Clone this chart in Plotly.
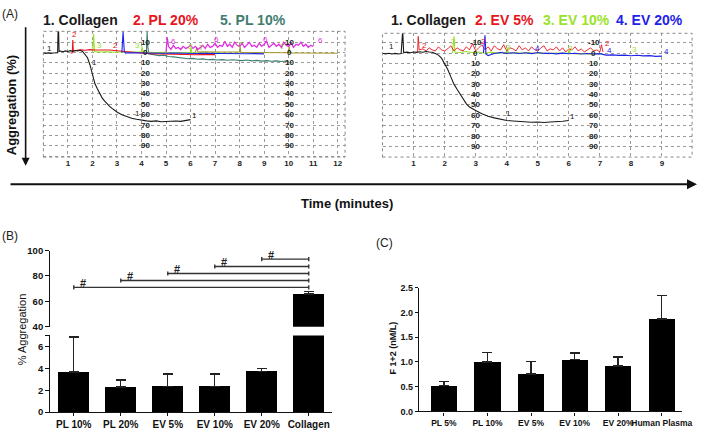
import plotly.graph_objects as go

W, H = 709, 435
def px(x): return x / W
def py(y): return 1 - y / H

# ---------------- Panel A data (time in minutes, aggregation %) ----------------
colL_t = [0.0,0.1,0.2,0.3,0.4,0.5,0.58,0.6,0.62,0.64,0.7,0.8,0.9,1.0,1.1,1.2,1.3,1.4,1.5,1.6,1.7,1.8,1.9,2.0,2.1,2.2,2.3,2.4,2.5,2.6,2.7,2.8,2.9,3.0,3.2,3.4,3.6,3.8,4.0,4.2,4.4,4.6,4.8,5.0,5.2,5.4,5.6,5.8,6.0]
colL_v = [0.5,0.8,0.3,0.9,0.4,0.6,0.2,-22,-22,-1,-1.5,-0.8,-1.6,-1.0,-1.8,-1.2,-2.0,-1.6,-2.2,-1.0,1.5,5,12,22,30,35,40,44,47,50,52,54,56,57.5,60,62,63.5,64.5,65.5,66,66.5,66,66.8,66.5,66.8,66.2,66.5,65.8,64.8]
redL_t = [1.1,1.18,1.2,1.22,1.3,1.5,1.7,1.9,2.1,2.3,2.5,2.7,2.9,3.1,3.3,3.5,3.8,4.1,4.4,4.7,5.0,5.3,5.6,5.9,6.2,6.5,6.8,7.0]
redL_v = [0.5,0.3,-12,-1.5,-2.0,-2.6,-2.2,-2.8,-2.4,-2.6,-2.2,-2.5,-2.0,-1.5,-0.8,-0.2,0.3,0.6,1.0,1.3,1.6,1.8,2.0,1.8,2.1,1.9,2.2,2.0]
grnL_t = [2.0,2.03,2.05,2.08,2.3,2.6,2.9,3.2,3.5,3.8,4.0,4.02,4.05,4.3,4.6,4.9,5.2,5.5,5.8,6.0,6.02,6.05,6.3,6.6,6.9,7.2,7.5,7.8,8.0]
grnL_v = [0,-18,-18,-1,-0.5,-0.8,-0.3,-0.6,-0.2,-0.5,-0.4,-6,-0.5,-0.2,0.1,-0.3,0.2,-0.1,0.3,0.1,-5,0.2,0.5,0.3,0.6,0.4,0.7,0.5,0.6]
bluL_t = [3.2,3.23,3.25,3.3,3.35,3.5,3.8,4.1,4.4,4.7,5.0,5.3,5.6,5.9,6.2,6.5,6.8,7.1,7.4,7.7,8.0,8.3,8.6,9.0]
bluL_v = [0,-13,-20,-1,0.5,0.2,0.4,0.1,0.5,0.3,0.6,0.4,0.8,0.5,0.9,0.6,0.8,1.0,0.7,1.1,0.9,1.2,1.0,1.3]
tealL_t = [4.2,4.23,4.26,4.3,4.5,4.7,4.9,5.1,5.3,5.5,5.7,5.9,6.1,6.3,6.5,6.7,6.9,7.1,7.3,7.5,7.7,7.9,8.1,8.3,8.5,8.7,8.9,9.1,9.3,9.5,9.7,9.9,10.0]
tealL_v = [0,-20,-5,1.5,2.0,3.0,2.5,3.8,4.2,4.8,5.2,6.0,5.6,6.5,6.1,7.0,6.6,7.2,6.8,7.4,6.9,7.3,7.8,7.2,8.0,7.6,8.3,7.8,8.4,8.0,8.6,8.2,8.5]
magL_t = [5.0,5.05,5.1,5.2,5.3,5.4,5.5,5.6,5.7,5.8,5.9,6.0,6.1,6.2,6.3,6.4,6.5,6.6,6.7,6.8,6.9,7.0,7.1,7.2,7.3,7.4,7.5,7.6,7.7,7.8,7.9,8.0,8.1,8.2,8.3,8.4,8.5,8.6,8.7,8.8,8.9,9.0,9.1,9.2,9.3,9.4,9.5,9.6,9.7,9.8,9.9,10.0,10.1,10.2,10.3,10.4,10.5,10.6,10.7,10.8,10.9,11.0]
magL_v = [0,-15,-6,-3,-7,-4,-5,-3,-6,-4,-5,-7,-4,-6,-3,-5,-7,-4,-8,-5,-6,-9,-5,-7,-6,-11,-6,-8,-5,-10,-7,-6,-9,-5,-8,-10,-6,-7,-5,-9,-6,-8,-11,-5,-7,-9,-6,-8,-5,-10,-7,-6,-9,-5,-8,-7,-10,-6,-8,-5,-7,-6]
olvL_t = [6.2,6.25,6.3,6.5,7.0,7.5,8.0,8.02,8.05,8.5,9.0,9.5,10.0,10.02,10.05,10.5,11.0,11.5,12.0]
olvL_v = [0,-5,-0.5,-0.8,-0.5,-0.3,-0.6,-6,-0.2,-0.1,0.2,0.3,0.2,-6,0.3,0.4,0.5,0.5,0.6]

colR_t = [0.0,0.1,0.2,0.3,0.4,0.5,0.6,0.63,0.65,0.68,0.8,0.9,1.0,1.1,1.2,1.3,1.4,1.5,1.6,1.7,1.8,1.9,2.0,2.1,2.2,2.3,2.4,2.5,2.6,2.7,2.8,2.9,3.0,3.2,3.4,3.6,3.8,4.0,4.2,4.4,4.6,4.8,5.0,5.2,5.4,5.6,5.8,6.0]
colR_v = [0.3,0.8,0.2,0.9,0.4,1.0,0.5,-22,-22,-0.5,-0.8,-0.3,-1.0,-0.6,-1.2,-0.8,-1.5,-1.0,-0.8,0.5,2,5,10,16,23,30,35,40,45,49,52,54,55.5,58.5,61,62.5,64,65,65.5,66,66.5,66.8,66.5,67,66.5,66.3,65.8,65]
redR_t = [1.1,1.13,1.15,1.18,1.3,1.4,1.5,1.6,1.7,1.8,1.9,2.0,2.1,2.2,2.3,2.4,2.5,2.6,2.7,2.8,2.9,3.0,3.1,3.2,3.3,3.4,3.5,3.6,3.7,3.8,3.9,4.0,4.1,4.2,4.3,4.4,4.5,4.6,4.7,4.8,4.9,5.0,5.1,5.2,5.3,5.4,5.5,5.6,5.7,5.8,5.9,6.0,6.1,6.2,6.3,6.4,6.5,6.6,6.7,6.8,6.9,7.0,7.05,7.1]
redR_v = [0,-2,-16,-3,-4,-2,-5,-3,-2,-6,-3,-2,-4,-7,-2,-5,-3,-2,-6,-3,-9,-2,-5,-8,-3,-6,-2,-7,-4,-3,-8,-2,-5,-4,-2,-7,-3,-5,-2,-6,-3,-2,-5,-7,-2,-4,-3,-6,-2,-5,-1,-4,-3,-6,-2,-4,-1,-3,-5,-2,-3,-1,-8,-1]
grnR_t = [2.25,2.28,2.3,2.33,2.5,2.7,2.9,3.1,3.3,3.5,3.7,3.9,4.0,4.02,4.05,4.3,4.5,4.7,4.9,5.1,5.3,5.5,5.7,5.9,6.0,6.02,6.05,6.3,6.5,6.7,6.9,7.0]
grnR_v = [0,-10,-16,-1,-0.5,-1.5,-0.3,-1.0,0.2,-0.8,0.1,-0.6,-0.2,-5,0.2,-0.5,0.3,-0.4,0.5,-0.2,0.6,0.1,0.4,0.8,0.3,-3,0.5,0.8,0.4,1.0,0.6,0.8]
bluR_t = [3.25,3.28,3.3,3.33,3.4,3.5,3.6,3.8,4.0,4.2,4.4,4.6,4.8,5.0,5.2,5.4,5.6,5.8,6.0,6.2,6.4,6.6,6.8,7.0,7.1,7.2,7.4,7.6,7.8,8.0,8.2,8.4,8.6,8.8,9.0]
bluR_v = [0,-10,-17,1,2.5,1.5,0.5,-0.5,0.3,-0.3,0.5,-0.2,0.6,-0.5,0.4,0.2,0.8,0.1,0.7,0.3,0.9,0.5,1.0,0.6,1.5,2.0,1.8,2.3,2.0,2.6,2.2,2.8,2.5,3.2,3.0]

# trace number labels (text, t, value)
lblL_text = ["1","2","3","2","3","6","6","6","6","7","7","7","3","1","1","1"]
lblL_t    = [0.25,1.28,2.28,2.95,3.85,5.3,7.05,9.05,11.3,6.45,8.05,9.75,6.0,2.1,3.85,6.15]
lblL_v    = [-4,-17,-7,-7,-7,-11,-13,-13,-12,-5,-8,-6,-6,10,59,61]
lblL_col  = ["k","r","g","r","g","m","m","m","m","o","o","o","g","k","k","k"]
lblR_text = ["1","2","3","2","3","4","3","2","4","3","4","1","1","1"]
lblR_t    = [0.3,1.35,2.3,3.25,4.05,5.0,6.05,7.25,7.3,8.1,9.15,2.1,4.05,6.12]
lblR_v    = [-6,-7,-11,-11,-5,-4,-4,-9,-2,-3,-1,10,58,61]
lblR_col  = ["k","r","g","r","g","b","g","r","b","g","b","k","k","k"]

# inner scale labels on the trace panels
inner_vals = [-10,0,10,20,30,40,50,60,70,80,90]
innerL_text = ["10","0","10","20","30","40","50","60","70","80","90"]
innerR_text = ["-10","0","10","20","30","40","50","60","70","80","90"]
innerL_pos = [4.15, 10.05]
innerR_pos = [3.0, 6.8]

xticksL = [1,2,3,4,5,6,7,8,9,10,11,12]
xticksR = [1,2,3,4,5,6,7,8,9]

# ---------------- Panel B data ----------------
b_cats = ["PL 10%","PL 20%","EV 5%","EV 10%","EV 20%","Collagen"]
b_vals = [3.65, 2.3, 2.35, 2.35, 3.7, 65.8]
b_errs = [3.2, 0.65, 1.15, 1.15, 0.3, 1.8]
b_sig_from = [0, 1, 2, 3, 4]
b_sig_level = [71, 76.5, 82, 87.5, 93.3]

# ---------------- Panel C data ----------------
c_cats = ["PL 5%","PL 10%","EV 5%","EV 10%","EV 20%","Human Plasma"]
c_vals = [0.52, 1.0, 0.76, 1.05, 0.92, 1.87]
c_errs = [0.08, 0.19, 0.25, 0.13, 0.18, 0.47]

COL = {"k":"#1a1a1a","r":"#e8141c","g":"#9be22a","b":"#1f22e8","t":"#3f7d70","m":"#e030e0","o":"#a09a2a"}
FONT = "Arial, Liberation Sans, sans-serif"
NARROW = "Liberation Sans Narrow, Arial Narrow, sans-serif"

fig = go.Figure()

def line(t, v, c, xa, ya, w=1.1):
    fig.add_trace(go.Scatter(x=t, y=v, mode="lines", line=dict(color=COL[c], width=w),
                             xaxis=xa, yaxis=ya, showlegend=False, hoverinfo="skip"))

# left trace panel
line(olvL_t, olvL_v, "o", "x", "y")
line(magL_t, magL_v, "m", "x", "y", 1.3)
line(tealL_t, tealL_v, "t", "x", "y")
line(grnL_t, grnL_v, "g", "x", "y")
line(redL_t, redL_v, "r", "x", "y")
line(bluL_t, bluL_v, "b", "x", "y")
line(colL_t, colL_v, "k", "x", "y")
# right trace panel
line(grnR_t, grnR_v, "g", "x2", "y2")
line(redR_t, redR_v, "r", "x2", "y2", 0.9)
line(bluR_t, bluR_v, "b", "x2", "y2")
line(colR_t, colR_v, "k", "x2", "y2")

# Panel B bars (upper & lower segments)
ebar = lambda e: dict(type="data", symmetric=False, array=e, arrayminus=[0]*len(e),
                      color="#222", thickness=1.4, width=5)
for ya in ["y3", "y4"]:
    fig.add_trace(go.Bar(x=list(range(len(b_cats))), y=b_vals, width=0.66, marker=dict(color="#000", line=dict(width=0)),
                         error_y=ebar(b_errs), xaxis="x3", yaxis=ya, showlegend=False, hoverinfo="skip"))
# Panel C bars
fig.add_trace(go.Bar(x=list(range(len(c_cats))), y=c_vals, width=0.6, marker=dict(color="#000", line=dict(width=0)),
                     error_y=ebar(c_errs), xaxis="x5", yaxis="y5", showlegend=False, hoverinfo="skip"))

ann = []
shapes = []

def add_lbls(texts, ts, vs, cols, xa, ya):
    for s, t, v, c in zip(texts, ts, vs, cols):
        ann.append(dict(text=s, x=t, y=v, xref=xa, yref=ya, showarrow=False, xanchor="center", yanchor="middle",
                        font=dict(family=NARROW, size=8, color=COL[c])))
add_lbls(lblL_text, lblL_t, lblL_v, lblL_col, "x", "y")
add_lbls(lblR_text, lblR_t, lblR_v, lblR_col, "x2", "y2")

for xpos in innerL_pos:
    for v, s in zip(inner_vals, innerL_text):
        ann.append(dict(text="<b>%s</b>" % s, x=xpos, y=v, xref="x", yref="y", showarrow=False,
                        xanchor="center", yanchor="middle", font=dict(family=NARROW, size=8, color="#222")))
for xpos in innerR_pos:
    for v, s in zip(inner_vals, innerR_text):
        ann.append(dict(text="<b>%s</b>" % s, x=xpos, y=v, xref="x2", yref="y2", showarrow=False,
                        xanchor="center", yanchor="middle", font=dict(family=NARROW, size=8, color="#222")))

# dotted border of trace panels
for (x0, x1, y0, y1) in [(44, 350, 26, 155), (388, 702, 28, 155)]:
    shapes.append(dict(type="rect", xref="paper", yref="paper", x0=px(x0), x1=px(x1), y0=py(y1), y1=py(y0),
                       line=dict(color="#888", width=1, dash="dot")))

def ptext(s, x, y, size, color="#111", family=FONT, angle=0):
    ann.append(dict(text=s, x=px(x), y=py(y), xref="paper", yref="paper", showarrow=False,
                    xanchor="center", yanchor="middle", textangle=angle,
                    font=dict(family=family, size=size, color=color)))

# titles of panel A
titles = [("1. Collagen", 82, "k"), ("2. PL 20%", 168, "r"), ("5. PL 10%", 257, "t"),
          ("1. Collagen", 435, "k"), ("2. EV 5%", 512, "r"), ("3. EV 10%", 585, "g"), ("4. EV 20%", 659, "b")]
for s, x, c in titles:
    ptext("<b>%s</b>" % s, x, 14, 14, COL[c])

ptext("(A)", 10, 8, 12, "#222")
ptext("(B)", 10, 236, 12, "#222")
ptext("(C)", 390, 243, 12, "#222")
ptext("<b>Aggregation (%)</b>", 12, 102, 13, angle=-90)
ptext("<b>Time (minutes)</b>", 352, 203, 13, family=NARROW)
ptext("% Aggregation", 22, 332, 11, angle=-90)
ptext("<b>F 1+2 (nM/L)</b>", 399, 351, 9, angle=-90)

# arrows
ann.append(dict(text="", x=px(26), y=py(164), xref="paper", yref="paper", ax=0, ay=-140, showarrow=True,
                arrowhead=2, arrowsize=1, arrowwidth=1.6, arrowcolor="#111"))
ann.append(dict(text="", x=px(707), y=py(183), xref="paper", yref="paper", ax=-688, ay=0, showarrow=True,
                arrowhead=2, arrowsize=1, arrowwidth=2, arrowcolor="#111"))

# significance brackets (panel B)
last = len(b_cats) - 1
for i, lev in zip(b_sig_from, b_sig_level):
    shapes.append(dict(type="line", xref="x3", yref="y3", x0=i, x1=last, y0=lev, y1=lev,
                       line=dict(color="#333", width=1.4)))
    for xx in (i, last):
        shapes.append(dict(type="line", xref="x3", yref="y3", x0=xx, x1=xx, y0=lev - 1.6, y1=lev + 1.6,
                           line=dict(color="#333", width=1.4)))
    ann.append(dict(text="<b>#</b>", x=i + 0.2, y=lev + 3.5, xref="x3", yref="y3", showarrow=False,
                    xanchor="center", yanchor="middle", font=dict(family=FONT, size=11, color="#222")))

gridkw = dict(showgrid=True, gridcolor="#9a9a9a", griddash="dot", gridwidth=1, zeroline=False,
              showline=False, ticks="")
tickfontA = dict(family=NARROW, size=8, color="#222")
layout = dict(
    width=W, height=H, margin=dict(l=0, r=0, t=0, b=0), paper_bgcolor="white", plot_bgcolor="white",
    annotations=ann, shapes=shapes, showlegend=False, bargap=0,
    xaxis=dict(domain=[px(44), px(350)], range=[0, 12.3], tickvals=[0]+xticksL, ticktext=[""]+[f"<b>{v}</b>" for v in xticksL],
               tickfont=tickfontA, anchor="y", **gridkw),
    yaxis=dict(domain=[py(155), py(26)], range=[101, -20.5], dtick=10, tick0=0, showticklabels=False, anchor="x", **gridkw),
    xaxis2=dict(domain=[px(388), px(702)], range=[0, 9.97], tickvals=[0]+xticksR, ticktext=[""]+[f"<b>{v}</b>" for v in xticksR],
                tickfont=tickfontA, anchor="y2", **gridkw),
    yaxis2=dict(domain=[py(155), py(28)], range=[100.3, -19], dtick=10, tick0=0, showticklabels=False, anchor="x2", **gridkw),
    xaxis3=dict(domain=[px(51), px(337)], range=[-0.5, 5.5], anchor="y4", tickvals=list(range(len(b_cats))),
                ticktext=[f"<b>{c}</b>" for c in b_cats], tickfont=dict(family=FONT, size=10, color="#111"), tickangle=0,
                showline=True, linecolor="#111", linewidth=1.4, ticks="outside", ticklen=3, tickcolor="#111",
                showgrid=False, zeroline=False),
    yaxis3=dict(domain=[py(329), py(251)], range=[40, 100], anchor="x3", tickvals=[40, 60, 80, 100],
                tickfont=dict(family=FONT, size=9.5, color="#111"), ticktext=["<b>40</b>", "<b>60</b>", "<b>80</b>", "<b>100</b>"],
                showline=True, linecolor="#111", linewidth=1.4, ticks="outside", ticklen=4, tickcolor="#111",
                showgrid=False, zeroline=False),
    yaxis4=dict(domain=[py(416.7), py(338)], range=[0, 7], anchor="x3", tickvals=[0, 2, 4, 6, 7],
                ticktext=["<b>0</b>", "<b>2</b>", "<b>4</b>", "<b>6</b>", ""], tickfont=dict(family=FONT, size=9.5, color="#111"),
                showline=True, linecolor="#111", linewidth=1.4, ticks="outside", ticklen=4, tickcolor="#111",
                showgrid=False, zeroline=False),
    xaxis5=dict(domain=[px(425), px(692)], range=[-0.57, 5.47], anchor="y5", tickvals=list(range(len(c_cats))),
                ticktext=[f"<b>{c}</b>" for c in c_cats], tickfont=dict(family=NARROW, size=8.5, color="#111"), tickangle=0,
                showline=True, linecolor="#111", linewidth=1.4, ticks="outside", ticklen=3, tickcolor="#111",
                showgrid=False, zeroline=False),
    yaxis5=dict(domain=[py(416), py(289)], range=[0, 2.5], anchor="x5", tickvals=[0, 0.5, 1.0, 1.5, 2.0, 2.5],
                ticktext=["<b>0.0</b>", "<b>0.5</b>", "<b>1.0</b>", "<b>1.5</b>", "<b>2.0</b>", "<b>2.5</b>"],
                tickfont=dict(family=NARROW, size=9, color="#111"),
                showline=True, linecolor="#111", linewidth=1.4, ticks="outside", ticklen=3, tickcolor="#111",
                showgrid=False, zeroline=False),
)
fig.update_layout(**layout)
fig.write_html("out.html", config={"displayModeBar": False},
               post_script="document.body.style.margin='0';document.body.style.padding='0';")
